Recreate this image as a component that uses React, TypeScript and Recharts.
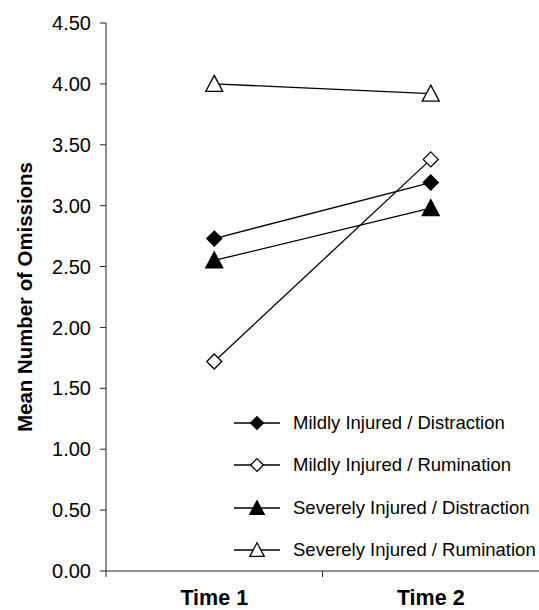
import React from "react";
import { LineChart, Line, XAxis, YAxis, Legend } from "recharts";

const times = ["Time 1", "Time 2"];
const mildDistraction = [2.73, 3.19];
const mildRumination = [1.72, 3.38];
const severeDistraction = [2.55, 2.98];
const severeRumination = [4.0, 3.92];
const yTicks = [0, 0.5, 1, 1.5, 2, 2.5, 3, 3.5, 4, 4.5];

const series = [
  { key: "md", name: "Mildly Injured / Distraction", values: mildDistraction, shape: "diamond", filled: true },
  { key: "mr", name: "Mildly Injured / Rumination", values: mildRumination, shape: "diamond", filled: false },
  { key: "sd", name: "Severely Injured / Distraction", values: severeDistraction, shape: "triangle", filled: true },
  { key: "sr", name: "Severely Injured / Rumination", values: severeRumination, shape: "triangle", filled: false },
];

const data = times.map((t, i) => {
  const row: any = { time: t };
  series.forEach((s) => (row[s.key] = s.values[i]));
  return row;
});

const FONT = "'Liberation Sans', Arial, Helvetica, sans-serif";
const INK = "#000";

function Marker({ cx, cy, shape, filled, k = 1 }: any) {
  if (cx == null || cy == null) return null;
  const fill = filled ? INK : "#fff";
  if (shape === "diamond") {
    const r = 7.5 * k;
    return (
      <polygon
        points={`${cx},${cy - r} ${cx + r},${cy} ${cx},${cy + r} ${cx - r},${cy}`}
        fill={fill}
        stroke={INK}
        strokeWidth={1.3}
      />
    );
  }
  const w = 8.5 * k;
  return (
    <polygon
      points={`${cx},${cy - 8.5 * k} ${cx + w},${cy + 7.5 * k} ${cx - w},${cy + 7.5 * k}`}
      fill={fill}
      stroke={INK}
      strokeWidth={1.3}
    />
  );
}

function TimeTick({ x, y, payload, index }: any) {
  const half = payload?.offset ?? 108;
  return (
    <g>
      {index === 0 && (
        <>
          <line x1={x - half} y1={y} x2={x - half} y2={y + 6} stroke="#222" />
          <line x1={x + half} y1={y} x2={x + half} y2={y + 6} stroke="#222" />
        </>
      )}
      <text x={x} y={y + 34} textAnchor="middle" fontFamily={FONT} fontWeight="bold" fontSize={21.5} fill={INK}>
        {payload.value}
      </text>
    </g>
  );
}

function YTitle({ viewBox }: any) {
  const cy = viewBox.y + viewBox.height / 2;
  const x = 32;
  return (
    <text
      x={x}
      y={cy}
      transform={`rotate(-90 ${x} ${cy})`}
      textAnchor="middle"
      fontFamily={FONT}
      fontWeight="bold"
      fontSize={20.4}
      fill={INK}
    >
      Mean Number of Omissions
    </text>
  );
}

function LegendBox() {
  return (
    <div style={{ fontFamily: FONT, fontSize: 18.5, color: INK }}>
      {series.map((s) => (
        <div key={s.key} style={{ display: "flex", alignItems: "center", height: 42.5 }}>
          <svg width={48} height={20} style={{ marginRight: 11 }}>
            <line x1={0} y1={10} x2={46} y2={10} stroke={INK} strokeWidth={1.3} />
            <Marker cx={23} cy={10} shape={s.shape} filled={s.filled} k={0.85} />
          </svg>
          <span style={{ whiteSpace: "nowrap" }}>{s.name}</span>
        </div>
      ))}
    </div>
  );
}

export default function App() {
  return (
    <div style={{ position: "absolute", left: 0, top: 0, background: "#fff" }}>
      <LineChart width={539} height={610} data={data} margin={{ top: 23, right: 0, bottom: 0, left: 0 }}>
        <XAxis
          dataKey="time"
          scale="band"
          height={39}
          axisLine={{ stroke: "#222" }}
          tickLine={false}
          tickSize={0}
          tickMargin={0}
          tick={<TimeTick />}
          interval={0}
        />
        <YAxis
          width={106}
          domain={[0, 4.5]}
          ticks={yTicks}
          interval={0}
          tickFormatter={(v: number) => v.toFixed(2)}
          axisLine={{ stroke: "#222" }}
          tickLine={{ stroke: "#222" }}
          tickSize={6}
          tickMargin={9}
          tick={{ fill: INK, fontFamily: FONT, fontSize: 20 }}
          label={<YTitle />}
        />
        <Legend
          layout="vertical"
          align="center"
          verticalAlign="middle"
          content={<LegendBox />}
          wrapperStyle={{ left: 234, top: 401.5, width: 305, height: 170 }}
        />
        {series.map((s) => (
          <Line
            key={s.key}
            dataKey={s.key}
            name={s.name}
            stroke={INK}
            strokeWidth={1.3}
            isAnimationActive={false}
            dot={(p: any) => <Marker key={`${s.key}-${p.index}`} cx={p.cx} cy={p.cy} shape={s.shape} filled={s.filled} />}
            activeDot={false}
          />
        ))}
      </LineChart>
    </div>
  );
}
